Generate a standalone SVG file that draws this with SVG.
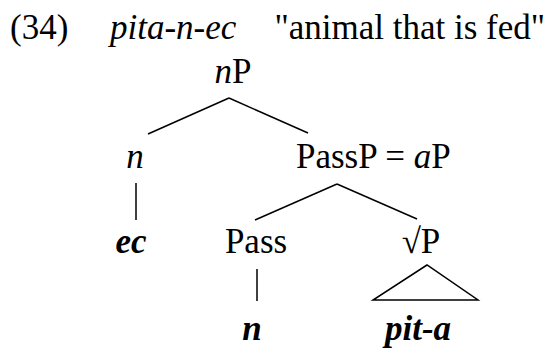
<svg xmlns="http://www.w3.org/2000/svg" width="551" height="349" viewBox="0 0 551 349">
<style>
text{font-family:"Liberation Serif","Times New Roman",serif;font-size:35px;fill:#000}
.i{font-style:italic}
.bi{font-style:italic;font-weight:bold}
.c{text-anchor:middle}
line,polygon{stroke:#000;stroke-width:1.5;fill:none}
</style>
<rect width="551" height="349" fill="#fff"/>
<g id="title">
<text x="10" y="39">(34)</text>
<text x="110" y="39" class="i">pita-n-ec</text>
<text x="545" y="39" text-anchor="end">"animal that is fed"</text>
</g>
<g id="nP"><text x="233" y="83" class="c"><tspan class="i">n</tspan>P</text></g>
<g id="n1"><text x="135" y="168" class="c i">n</text></g>
<g id="PassP"><text x="296" y="168">PassP = <tspan class="i">a</tspan>P</text></g>
<g id="ec"><text x="131" y="253" class="c bi">ec</text></g>
<g id="Pass"><text x="256" y="253" class="c">Pass</text></g>
<g id="rootP"><text x="421" y="253" class="c">√P</text></g>
<g id="n2"><text x="252" y="340" class="c bi">n</text></g>
<g id="pita"><text x="418" y="340" class="c bi">pit-a</text></g>
<g id="connectors">
<line x1="229" y1="98" x2="148" y2="134"/>
<line x1="229" y1="98" x2="308" y2="133"/>
<line x1="136" y1="183" x2="136" y2="220"/>
<line x1="337" y1="184" x2="255" y2="220"/>
<line x1="337" y1="184" x2="417" y2="219"/>
<line x1="257" y1="269" x2="257" y2="301"/>
<polygon points="427,265 373,300 478,300"/>
</g>
</svg>
